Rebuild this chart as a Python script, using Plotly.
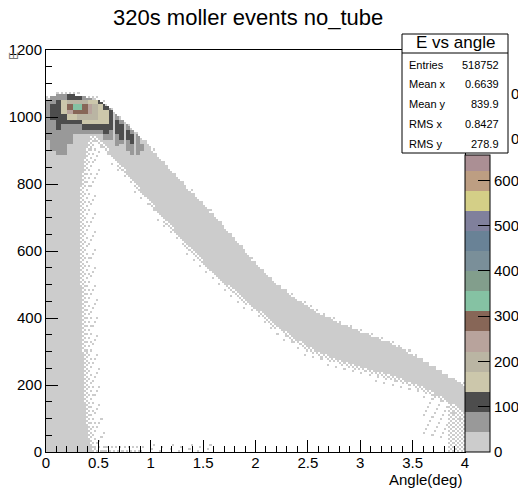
import numpy as np
import plotly.graph_objects as go

# ---------------- data ----------------
title_text = "320s moller events no_tube"
x_title = "Angle(deg)"
y_title = "E"

# upper edge of the populated band (angle in deg -> energy)
upper_angle = [0.00, 0.13, 0.26, 0.38, 0.50, 0.60, 0.70, 0.80, 0.90, 1.00, 1.10, 1.20, 1.30, 1.40,
               1.50, 1.60, 1.70, 1.80, 1.90, 2.00, 2.20, 2.40, 2.60, 2.80, 3.00, 3.20, 3.40, 3.60,
               3.80, 4.00]
upper_E = [1056, 1068, 1066, 1059, 1051, 1028, 998, 968, 940, 906, 872, 838, 805, 772,
           740, 706, 672, 636, 598, 560, 500, 452, 415, 385, 358, 334, 308, 275,
           234, 198]

# lower edge of the band (below it the plot is empty except the left column)
lower_angle = [0.42, 0.50, 0.60, 0.70, 0.80, 0.90, 1.00, 1.10, 1.20, 1.30, 1.40, 1.50, 1.60,
               1.70, 1.80, 1.90, 2.00, 2.20, 2.40, 2.60, 2.80, 3.00, 3.20, 3.40, 3.60, 3.80, 4.00]
lower_E = [948, 935, 900, 863, 825, 786, 748, 710, 673, 637, 603, 570, 539,
           509, 482, 455, 430, 378, 332, 300, 276, 256, 238, 219, 195, 162, 118]

# right edge of the solid column at small angles (energy -> angle)
column_E = [0, 50, 100, 200, 300, 400, 500, 600, 700, 800, 900, 950]
column_angle = [0.44, 0.40, 0.38, 0.36, 0.35, 0.34, 0.33, 0.32, 0.32, 0.33, 0.38, 0.44]

# colour level of the dense region near the peak (0 = take the band value)
hot_angle = [0.025, 0.075, 0.125, 0.175, 0.225, 0.275, 0.325, 0.375, 0.425, 0.475,
             0.525, 0.575, 0.625, 0.675, 0.725, 0.775, 0.825, 0.875, 0.925, 0.975]
hot_E = [1057.5, 1042.5, 1027.5, 1012.5, 997.5, 982.5, 967.5, 952.5, 937.5, 922.5,
         907.5, 892.5, 877.5]
hot_level = [
    [1, 2, 2, 2, 3, 3, 3, 2, 2, 1, 1, 0, 0, 0, 0, 0, 0, 0, 0, 0],
    [2, 2, 3, 4, 5, 5, 5, 5, 4, 4, 3, 2, 0, 0, 0, 0, 0, 0, 0, 0],
    [2, 3, 3, 4, 7, 8, 8, 7, 6, 5, 4, 3, 2, 0, 0, 0, 0, 0, 0, 0],
    [2, 3, 3, 4, 6, 7, 7, 7, 6, 5, 4, 4, 3, 1, 0, 0, 0, 0, 0, 0],
    [2, 3, 3, 3, 4, 4, 5, 5, 5, 5, 4, 4, 3, 2, 0, 0, 0, 0, 0, 0],
    [2, 2, 3, 3, 3, 3, 3, 4, 4, 4, 4, 4, 3, 3, 2, 0, 0, 0, 0, 0],
    [2, 2, 3, 2, 2, 2, 2, 3, 3, 3, 3, 3, 3, 3, 3, 2, 0, 0, 0, 0],
    [2, 2, 2, 2, 2, 2, 2, 2, 2, 2, 2, 3, 2, 3, 3, 3, 2, 0, 0, 0],
    [2, 2, 2, 2, 2, 1, 1, 1, 1, 1, 1, 2, 2, 2, 3, 3, 3, 2, 0, 0],
    [1, 2, 2, 2, 2, 1, 0, 0, 0, 0, 0, 1, 1, 2, 2, 2, 3, 2, 1, 0],
    [0, 2, 2, 2, 1, 0, 0, 0, 0, 0, 0, 0, 0, 0, 1, 2, 2, 2, 2, 0],
    [0, 1, 2, 2, 1, 0, 0, 0, 0, 0, 0, 0, 0, 0, 0, 1, 2, 2, 1, 0],
    [0, 0, 1, 1, 0, 0, 0, 0, 0, 0, 0, 0, 0, 0, 0, 0, 1, 1, 1, 0],
]

# palette (20 contour levels, 0 .. z_max)
level_colors = ["#cccccc", "#999999", "#4d4d4d", "#ccc7ab", "#bab5a3", "#b8a39c", "#876657",
                "#85c2a3", "#829e8c", "#7a8f99", "#698296", "#80809c", "#d4cf87", "#bd9e82",
                "#ab8f94", "#a6787a", "#d45954", "#bf8273", "#c79a7d", "#d4b386"]
z_max = 888
cbar_ticks = [0, 100, 200, 300, 400, 500, 600]

x_ticks = [0, 0.5, 1, 1.5, 2, 2.5, 3, 3.5, 4]
y_ticks = [0, 200, 400, 600, 800, 1000, 1200]

stats_title = "E vs angle"
stats_labels = ["Entries", "Mean x", "Mean y", "RMS x", "RMS y"]
stats_values = ["518752", "0.6639", "839.9", "0.8427", "278.9"]

# ---------------- build the histogram grid ----------------
nx, ny = 200, 200
ax_c = (np.arange(nx) + 0.5) * (4.0 / nx)
E_c = (np.arange(ny) + 0.5) * (1200.0 / ny)
A, E = np.meshgrid(ax_c, E_c)
J, I = np.meshgrid(np.arange(nx), np.arange(ny))

Eu = np.interp(A, upper_angle, upper_E)
El = np.interp(A, lower_angle, lower_E, left=1e9)
colA = np.interp(E, column_E, column_angle)
below_top = E <= Eu
filled = below_top & ((E >= El) | (A <= colA))

# sparse single-count bins around the populated regions (regular lattice thinning)
half = ((I + J) % 2 == 0)
quarter = ((I + 2 * J) % 4 == 0)
ninth = ((2 * I + 5 * J) % 9 == 0)
sparse = np.zeros_like(filled)
dcol = A - colA
sparse |= below_top & (dcol > 0) & (dcol <= 0.04) & half
sparse |= below_top & (dcol > 0.04) & (dcol <= 0.09) & quarter
sparse |= below_top & (dcol > 0.09) & (dcol <= 0.16) & ninth
dlow = El - E
sparse |= (A >= 0.42) & (dlow > 0) & (dlow <= 12) & half
sparse |= (A >= 0.42) & (dlow > 12) & (dlow <= 30) & ninth
dup = E - Eu
sparse |= (dup > 0) & (dup <= 8) & quarter
sparse |= (E < 24) & (dcol > 0) & (A <= 0.9) & quarter
sparse |= (E < 24) & (A > 0.9) & (A <= 1.6) & ninth
sparse |= (A >= 3.84) & (E < El) & half
sparse |= (A >= 3.6) & (A < 3.84) & (E < El) & (E > 40) & ninth
sparse &= ~filled

nlev = len(level_colors)
step = z_max / nlev
z = np.full((ny, nx), np.nan)
z[filled | sparse] = 0.5 * step

for r, Ev in enumerate(hot_E):
    for c, av in enumerate(hot_angle):
        lv = hot_level[r][c]
        if lv <= 0:
            continue
        m = (np.abs(A - av) <= 0.025) & (np.abs(E - Ev) <= 7.5) & filled
        z[m] = (lv - 0.5) * step

colorscale = []
for k, col in enumerate(level_colors):
    colorscale.append([k / nlev, col])
    colorscale.append([(k + 1) / nlev, col])

# ---------------- layout geometry (pixels) ----------------
W, H = 518, 488
L, R, T, B = 46, 465, 50, 452


def fx(px):
    return (px - L) / (R - L)


def fy(py):
    return (B - py) / (B - T)


font_family = "Liberation Sans, Arial, Helvetica, sans-serif"

fig = go.Figure()
fig.add_trace(go.Heatmap(x=ax_c, y=E_c, z=z, zmin=0, zmax=z_max, colorscale=colorscale,
                         showscale=False, hoverinfo="skip"))

# colour bar (its upper part is hidden behind the statistics box)
cb_top_px = 155
cb_len = fy(cb_top_px)
cb_max = z_max * cb_len
cb_scale = []
for k, col in enumerate(level_colors):
    lo = k * step / cb_max
    hi = (k + 1) * step / cb_max
    if lo >= 1:
        break
    cb_scale.append([lo, col])
    cb_scale.append([min(hi, 1.0), col])
fig.add_trace(go.Scatter(
    x=[-10], y=[-10], mode="markers", showlegend=False, hoverinfo="skip",
    marker=dict(color=[0], cmin=0, cmax=cb_max, colorscale=cb_scale, showscale=True,
                colorbar=dict(x=1.0, xanchor="left", xpad=0, y=0, yanchor="bottom", ypad=0,
                              len=cb_len, lenmode="fraction", thickness=25, thicknessmode="pixels",
                              outlinewidth=1, outlinecolor="black",
                              tickmode="array", tickvals=cbar_ticks, ticks="inside", ticklen=12,
                              tickwidth=1, tickcolor="black",
                              tickfont=dict(family=font_family, size=15, color="black")))))

axis_common = dict(showline=True, linecolor="black", linewidth=1, mirror=True, showgrid=False,
                   zeroline=False, ticks="inside", ticklen=12, tickwidth=1, tickcolor="black",
                   tickfont=dict(family=font_family, size=15, color="black"))
fig.update_xaxes(range=[0, 4], tickmode="array", tickvals=x_ticks,
                 ticktext=[("%g" % v) for v in x_ticks], ticklabelstandoff=-3,
                 minor=dict(ticks="inside", ticklen=6, dtick=0.1, tickcolor="black", tickwidth=1),
                 **axis_common)
fig.update_yaxes(range=[0, 1200], tickmode="array", tickvals=y_ticks,
                 minor=dict(ticks="inside", ticklen=6, dtick=50, tickcolor="black", tickwidth=1),
                 **axis_common)

shapes = [
    dict(type="rect", xref="paper", yref="paper", x0=fx(402), x1=fx(508), y0=fy(153), y1=fy(34),
         line=dict(color="black", width=1), fillcolor="white", layer="above"),
    dict(type="line", xref="paper", yref="paper", x0=fx(402), x1=fx(508), y0=fy(53), y1=fy(53),
         line=dict(color="black", width=1), layer="above"),
]

ann = [
    dict(text=title_text, x=fx(248), y=fy(17), xref="paper", yref="paper", showarrow=False,
         xanchor="center", yanchor="middle", font=dict(family=font_family, size=22, color="black")),
    dict(text=x_title, x=fx(464), y=fy(480), xref="paper", yref="paper", showarrow=False,
         xanchor="right", yanchor="middle", font=dict(family=font_family, size=15, color="black")),
    dict(text=y_title, x=fx(14), y=fy(56), xref="paper", yref="paper", showarrow=False,
         textangle=-90, xanchor="center", yanchor="middle",
         font=dict(family=font_family, size=12, color="#777777")),
    dict(text=stats_title, x=fx(455), y=fy(43), xref="paper", yref="paper", showarrow=False,
         xanchor="center", yanchor="middle", font=dict(family=font_family, size=17, color="black")),
    dict(text="0", x=fx(509), y=fy(138), xref="paper", yref="paper", showarrow=False,
         xanchor="left", yanchor="middle", font=dict(family=font_family, size=15, color="black")),
    dict(text="0", x=fx(509), y=fy(93), xref="paper", yref="paper", showarrow=False,
         xanchor="left", yanchor="middle", font=dict(family=font_family, size=15, color="black")),
]
row_y = [65, 84, 104, 124, 144]
for lab, val, yy in zip(stats_labels, stats_values, row_y):
    ann.append(dict(text=lab, x=fx(407), y=fy(yy), xref="paper", yref="paper", showarrow=False,
                    xanchor="left", yanchor="middle",
                    font=dict(family=font_family, size=11, color="black")))
    ann.append(dict(text=val, x=fx(501), y=fy(yy), xref="paper", yref="paper", showarrow=False,
                    xanchor="right", yanchor="middle",
                    font=dict(family=font_family, size=11, color="black")))

fig.update_layout(width=W, height=H,
                  margin=dict(l=L, r=W - R, t=T, b=H - B, pad=0, autoexpand=False),
                  paper_bgcolor="white", plot_bgcolor="white", showlegend=False,
                  shapes=shapes, annotations=ann,
                  font=dict(family=font_family, color="black"))

fig.write_html("out.html")
